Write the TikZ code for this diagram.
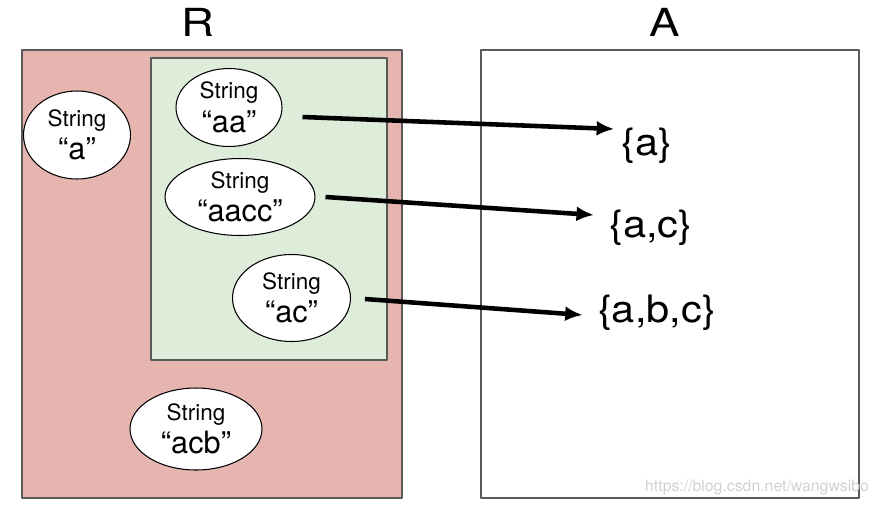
\documentclass[tikz,border=0pt]{standalone}
\usepackage{fontspec}
\setmainfont{TeX Gyre Heros}
\newfontfamily\rong[FakeStretch=1.18]{TeX Gyre Heros}
\newfontfamily\rongvua[FakeStretch=1.1]{TeX Gyre Heros}
\usetikzlibrary{shapes.geometric,arrows.meta}
\definecolor{rfill}{HTML}{E7B5AF}
\definecolor{gfill}{HTML}{DEECDA}
\definecolor{khung}{HTML}{5A5A5A}
\newcommand\chuoi[1]{String\\{\fontsize{17.5}{19}\selectfont “#1”}}
\begin{document}
\begin{tikzpicture}[x=0.02cm, y=-0.02cm, line join=round, >={Latex[length=10pt,width=8.5pt]},
		ell/.style={ellipse, draw=black, line width=0.6pt, fill=white, inner sep=0pt, align=center, font=\fontsize{12.8}{19}\selectfont},
		tap/.style={font=\rongvua\fontsize{21.5}{26}\selectfont, inner sep=0pt},
		ten/.style={font=\rong\fontsize{22}{26}\selectfont, inner sep=0pt},
		anhxa/.style={->, line width=2.6pt}]
	\useasboundingbox (0,0) rectangle (880,505);
	
	% Vẽ các khung
	\draw[khung, fill=rfill, line width=0.8pt] (22,50) rectangle (402,498);
	\draw[khung, fill=gfill, line width=0.8pt] (151,58) rectangle (387,360);
	\draw[khung, line width=0.8pt] (481,50) rectangle (859,498);
	\node[ten] (R) at (198,22) {R};
	\node[ten] (A) at (665,22) {A};
	
	% Các chuỗi
	\node[ell, minimum width=2.14cm, minimum height=1.76cm] (sa) at (77,135) {\chuoi{a}};
	\node[ell, minimum width=2.12cm, minimum height=1.56cm] (saa) at (229,107.5) {\chuoi{aa}};
	\node[ell, minimum width=3.0cm, minimum height=1.54cm] (saacc) at (240,197) {\chuoi{aacc}};
	\node[ell, minimum width=2.36cm, minimum height=1.74cm] (sac) at (291.5,298) {\chuoi{ac}};
	\node[ell, minimum width=2.64cm, minimum height=1.64cm] (sacb) at (196,429) {\chuoi{acb}};
	
	% Các tập
	\node[tap] (t1) at (647,146) {\{a\}};
	\node[tap] (t2) at (651,228) {\{a,c\}};
	\node[tap] (t3) at (657,313) {\{a,b,c\}};
	
	% Mũi tên
	\draw[anhxa] ([shift={(20,9.5)}]saa.east) -- ([shift={(-7,-17)}]t1.west);
	\draw[anhxa] ([shift={(10,0)}]saacc.east) -- ([shift={(-15,-13)}]t2.west);
	\draw[anhxa] ([shift={(14,1)}]sac.east) -- ([shift={(-15,2)}]t3.west);
	
	\node[text=black!18, font=\fontsize{9}{11}\selectfont, inner sep=0pt] (wm) at (757,487) {https://blog.csdn.net/wangwsibo};
\end{tikzpicture}
\end{document}
